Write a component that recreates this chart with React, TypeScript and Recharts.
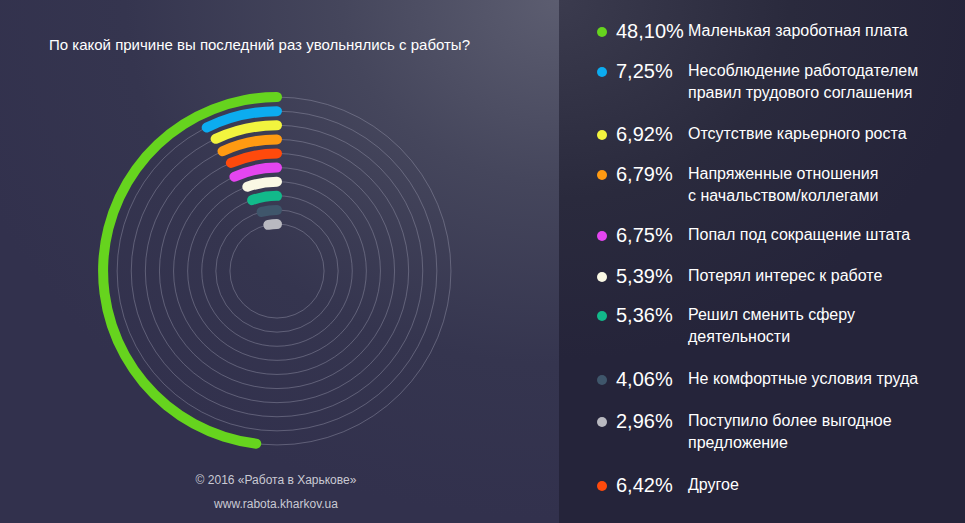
import { PolarAngleAxis, PolarGrid, PolarRadiusAxis, RadialBar, RadialBarChart } from "recharts";

// legend order, top to bottom
const reasons = [
  "Маленькая зароботная плата",
  "Несоблюдение работодателем\nправил трудового соглашения",
  "Отсутствие карьерного роста",
  "Напряженные отношения\nс начальством/коллегами",
  "Попал под сокращение штата",
  "Потерял интерес к работе",
  "Решил сменить сферу\nдеятельности",
  "Не комфортные условия труда",
  "Поступило более выгодное\nпредложение",
  "Другое",
];
const shares = [48.1, 7.25, 6.92, 6.79, 6.75, 5.39, 5.36, 4.06, 2.96, 6.42];
const colors = [
  "#66d41e",
  "#0cacf0",
  "#f2f43e",
  "#ff9a12",
  "#e445f0",
  "#faf8e4",
  "#12b98a",
  "#3f566b",
  "#b9b9c0",
  "#ff4a0c",
];
// ring order, outermost first (as drawn)
const ringOrder = [0, 1, 2, 3, 9, 4, 5, 6, 7, 8];
const rowTops = [18, 58, 121, 161, 222, 263, 302, 366, 408, 472];

const chartData = ringOrder
  .slice()
  .reverse()
  .map((i) => ({ name: reasons[i], value: shares[i], fill: colors[i] }));

const fmt = (v: number) => v.toFixed(2).replace(".", ",") + "%";

export default function App() {
  return (
    <div
      style={{
        position: "absolute",
        left: 0,
        top: 0,
        width: 965,
        height: 523,
        overflow: "hidden",
        fontFamily: "'Liberation Sans', Arial, sans-serif",
        background: "#2c2b42",
      }}
    >
      <div
        style={{
          position: "absolute",
          left: 0,
          top: 0,
          width: 559,
          height: 523,
          background:
            "radial-gradient(ellipse 620px 520px at 100% 0%, #5c5d70 0%, #45465c 35%, #35354f 70%, #32314d 100%)",
        }}
      />
      <div
        style={{
          position: "absolute",
          left: 559,
          top: 0,
          width: 406,
          height: 523,
          background:
            "radial-gradient(ellipse 420px 360px at 0% 0%, #3b3b4e 0%, #2a2a3d 55%, #25243a 100%)",
        }}
      />
      <div
        style={{
          position: "absolute",
          left: 49,
          top: 36,
          color: "#ffffff",
          fontSize: 15,
          whiteSpace: "nowrap",
        }}
      >
        По какой причине вы последний раз увольнялись с работы?
      </div>
      <div style={{ position: "absolute", left: 0, top: 0 }}>
        <RadialBarChart
          width={560}
          height={523}
          cx={277}
          cy={271}
          innerRadius={40}
          outerRadius={181}
          startAngle={90}
          endAngle={450}
          data={chartData}
          barCategoryGap={0}
          margin={{ top: 0, right: 0, bottom: 0, left: 0 }}
        >
          <PolarGrid gridType="circle" radialLines={false} stroke="#9a9aae" strokeOpacity={0.55} strokeWidth={0.8} />
          <PolarAngleAxis type="number" domain={[0, 100]} tick={false} axisLine={false} />
          <PolarRadiusAxis type="category" dataKey="name" tick={false} axisLine={false} />
          <RadialBar
            dataKey="value"
            barSize={10}
            cornerRadius={5}
            cornerIsExternal
            forceCornerRadius
            isAnimationActive={false}
          />
        </RadialBarChart>
      </div>
      {reasons.map((r, i) => (
        <div key={r} style={{ position: "absolute", left: 596, top: rowTops[i], color: "#ffffff" }}>
          <div
            style={{
              position: "absolute",
              left: 1,
              top: 9,
              width: 10,
              height: 10,
              borderRadius: 5,
              background: colors[i],
            }}
          />
          <div style={{ position: "absolute", left: 20, top: 2, fontSize: 20, whiteSpace: "nowrap" }}>
            {fmt(shares[i])}
          </div>
          <div
            style={{
              position: "absolute",
              left: 92,
              top: 2,
              fontSize: 16,
              lineHeight: "22px",
              whiteSpace: "pre",
            }}
          >
            {r}
          </div>
        </div>
      ))}
      <div
        style={{
          position: "absolute",
          left: 0,
          width: 552,
          top: 473,
          textAlign: "center",
          color: "#c9c9d3",
          fontSize: 12,
        }}
      >
        © 2016 «Работа в Харькове»
      </div>
      <div
        style={{
          position: "absolute",
          left: 0,
          width: 552,
          top: 497,
          textAlign: "center",
          color: "#c9c9d3",
          fontSize: 12,
        }}
      >
        www.rabota.kharkov.ua
      </div>
    </div>
  );
}
